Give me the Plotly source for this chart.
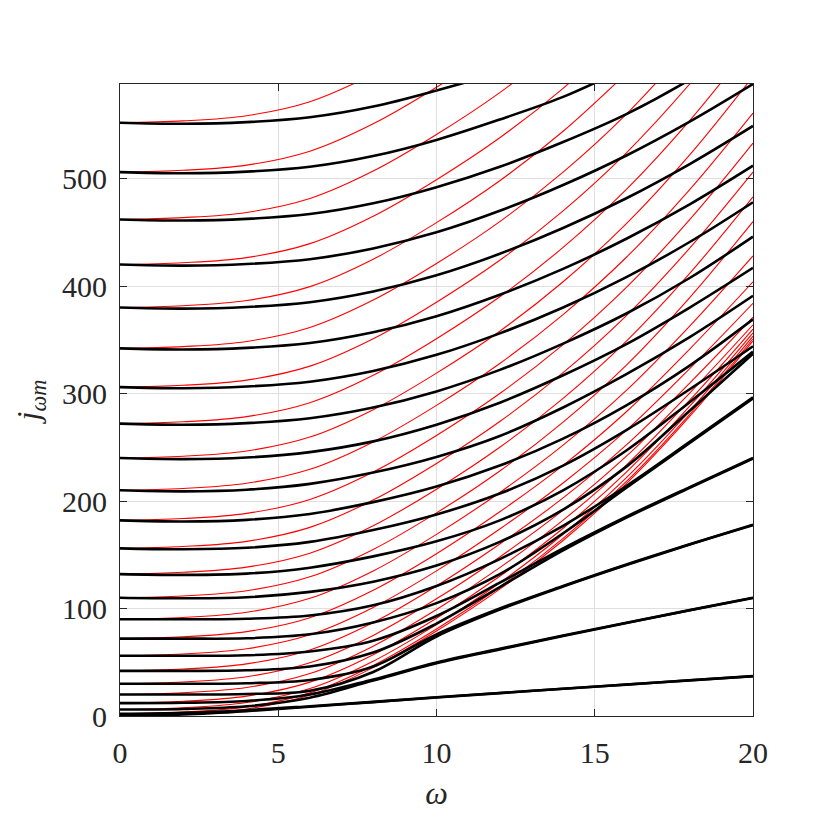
import plotly.graph_objects as go

omega = [0, 2, 4, 6, 8, 10, 12, 14, 16, 18, 20]
x_ticks = [0, 5, 10, 15, 20]
y_ticks = [0, 100, 200, 300, 400, 500]

# black curves, one list per mode (values read at the omega positions)
black_00 = [0, 1.4, 4.5, 8.6, 12.9, 17.2, 21.3, 25.3, 29.2, 33.1, 37]
black_01 = [2, 2.9, 5.4, 9.1, 13.1, 17.4, 21.4, 25.4, 29.3, 33.2, 37.1]
black_02 = [6, 6.5, 9, 17, 33, 49, 62, 74.5, 86.5, 98.3, 109.8]
black_03 = [12, 12.3, 14, 20, 34, 49.8, 62.5, 74.8, 86.7, 98.5, 110]
black_04 = [20, 20, 20.5, 23.5, 41, 74, 99, 120.5, 140.5, 159.5, 177.5]
black_05 = [30, 30, 30.5, 33.5, 46, 76, 100, 121, 141, 159.8, 178]
black_06 = [42, 42, 42.5, 46, 59, 86, 120, 154, 184.5, 212.3, 239.5]
black_07 = [56, 56, 56.5, 60, 70, 93, 124, 156, 185.5, 213, 240]
black_08 = [72, 72, 72.3, 76, 87, 105, 132, 170, 212.5, 254, 295.5]
black_09 = [90, 90, 90.5, 93.5, 103, 121, 146, 177, 214, 255, 296.5]
black_10 = [110, 109.5, 110.5, 115.5, 125, 140, 162, 192, 232, 284, 337]
black_11 = [132, 131.3, 132.5, 138, 148.5, 162.5, 182, 210, 247, 292, 339]
black_12 = [156, 155.2, 156.5, 162, 173, 187.5, 207, 233, 266, 304, 344]
black_13 = [182, 181, 182.5, 188, 199, 213.5, 233, 258, 289, 326, 369]
black_14 = [210, 209, 210.5, 216, 226.5, 241, 260.5, 287, 318, 352.5, 391]
black_15 = [240, 239, 240.5, 245.5, 255.5, 271, 291.5, 317, 346, 380, 417]
black_16 = [272, 271, 272.5, 277, 287, 302, 322, 346.5, 374.5, 407.5, 446]
black_17 = [306, 305, 306.5, 311, 321, 336, 356, 380, 408.3, 441, 478]
black_18 = [342, 341, 342.5, 347, 357, 372, 392, 416, 444, 476, 512]
black_19 = [380, 379, 380.5, 385, 395, 410, 430, 454, 481.7, 513.5, 549]
black_20 = [420, 419, 420.5, 425, 435, 450, 470, 494, 521.5, 553, 588]
black_21 = [462, 461, 462.5, 467, 477, 492, 511, 534, 560, 592, 630]
black_22 = [506, 505, 506.5, 511, 521, 536, 555, 576, 603]
black_23 = [552, 551, 552.5, 557, 567, 582, 599, 620]

# red curves, one list per mode (values read at the omega positions)
red_00 = [0, 1.7, 6.5, 19.5, 45, 79, 118, 163.3, 216.2, 278.7, 349]
red_01 = [2, 3.7, 8.5, 21.5, 47, 81, 120, 165.3, 218.2, 280.7, 351]
red_02 = [6, 7.7, 12.5, 25.5, 51, 85, 124, 169.1, 221.8, 283.9, 353.5]
red_03 = [12, 13.7, 18.5, 31.5, 57, 91, 130, 174.7, 226.9, 288.2, 356.5]
red_04 = [20, 21.7, 26.5, 39.5, 65, 99, 138, 182.2, 233.5, 293.8, 360]
red_05 = [30, 31.7, 36.5, 49.5, 75, 109, 148, 191.5, 241.7, 300.5, 364]
red_06 = [42, 43.7, 48.5, 61.5, 87, 121, 160, 202.9, 252.2, 309.7, 371]
red_07 = [56, 57.7, 62.5, 75.5, 101, 135, 174, 216.8, 265.9, 323.2, 384]
red_08 = [72, 73.7, 78.5, 91.5, 117, 151, 190, 233.2, 283.1, 341.4, 404]
red_09 = [90, 91.7, 96.5, 109.5, 135, 169, 208, 252, 302.9, 362.7, 428]
red_10 = [110, 111.7, 116.5, 129.5, 155, 189, 228, 273.4, 326.5, 389.3, 460]
red_11 = [132, 133.7, 138.5, 151.5, 177, 211, 250, 295.5, 348.8, 411.8, 483]
red_12 = [156, 157.7, 162.5, 175.5, 201, 235, 274, 319.4, 372.5, 435.3, 506]
red_13 = [182, 183.7, 188.5, 201.5, 227, 261, 300, 345.5, 398.8, 461.8, 533]
red_14 = [210, 211.7, 216.5, 229.5, 255, 289, 328, 373.5, 426.8, 489.8, 561]
red_15 = [240, 241.7, 246.5, 259.5, 285, 319, 358, 404, 458, 522, 595]
red_16 = [272, 273.7, 278.5, 291.5, 317, 351, 390, 436, 490, 554, 627]
red_17 = [306, 307.7, 312.5, 325.5, 351, 385, 424, 470, 524, 588, 661]
red_18 = [342, 343.7, 348.5, 361.5, 387, 421, 460, 506, 560, 624]
red_19 = [380, 381.7, 386.5, 399.5, 425, 459, 498, 544, 598]
red_20 = [420, 421.7, 426.5, 439.5, 465, 499, 538, 584, 638]
red_21 = [462, 463.7, 468.5, 481.5, 507, 541, 580, 626]
red_22 = [506, 507.7, 512.5, 525.5, 551, 585, 624]
red_23 = [552, 553.7, 558.5, 571.5, 597]

black_curves = [black_00, black_01, black_02, black_03, black_04, black_05,
                black_06, black_07, black_08, black_09, black_10, black_11,
                black_12, black_13, black_14, black_15, black_16, black_17,
                black_18, black_19, black_20, black_21, black_22, black_23]
red_curves = [red_00, red_01, red_02, red_03, red_04, red_05,
              red_06, red_07, red_08, red_09, red_10, red_11,
              red_12, red_13, red_14, red_15, red_16, red_17,
              red_18, red_19, red_20, red_21, red_22, red_23]

fig = go.Figure()
for vals in red_curves:
    fig.add_trace(go.Scatter(
        x=omega[:len(vals)], y=vals, mode="lines",
        line=dict(color="#ff0000", width=1.1, shape="spline", smoothing=1.0),
        hoverinfo="skip", showlegend=False))
for vals in black_curves:
    fig.add_trace(go.Scatter(
        x=omega[:len(vals)], y=vals, mode="lines",
        line=dict(color="#000000", width=2.6, shape="spline", smoothing=1.0),
        hoverinfo="skip", showlegend=False))

serif = "Liberation Serif, Times New Roman, serif"
axis_common = dict(
    ticks="inside", ticklen=7, tickwidth=1, tickcolor="#262626",
    showline=True, linecolor="#262626", linewidth=1, mirror="ticks",
    showgrid=True, gridcolor="#dfdfdf", gridwidth=1, zeroline=False,
    tickfont=dict(family=serif, size=30, color="#262626"),
)
fig.update_xaxes(range=[0, 20], tickvals=x_ticks,
                 ticktext=[str(v) for v in x_ticks], ticklabelstandoff=10,
                 title=dict(text="<i>ω</i>", standoff=13,
                            font=dict(family=serif, size=32, color="#262626")),
                 **axis_common)
fig.update_yaxes(range=[0, 588], tickvals=y_ticks,
                 ticktext=[str(v) for v in y_ticks], ticklabelstandoff=6,
                 title=dict(text="<i>j</i><sub><i>ωm</i></sub>", standoff=12,
                            font=dict(family=serif, size=32, color="#262626")),
                 **axis_common)

fig.update_layout(
    width=830, height=830,
    margin=dict(l=112, r=85, t=76, b=122, autoexpand=False),
    paper_bgcolor="white", plot_bgcolor="white",
    font=dict(family=serif, size=30, color="#262626"),
    showlegend=False,
)

fig.write_html("out.html")
